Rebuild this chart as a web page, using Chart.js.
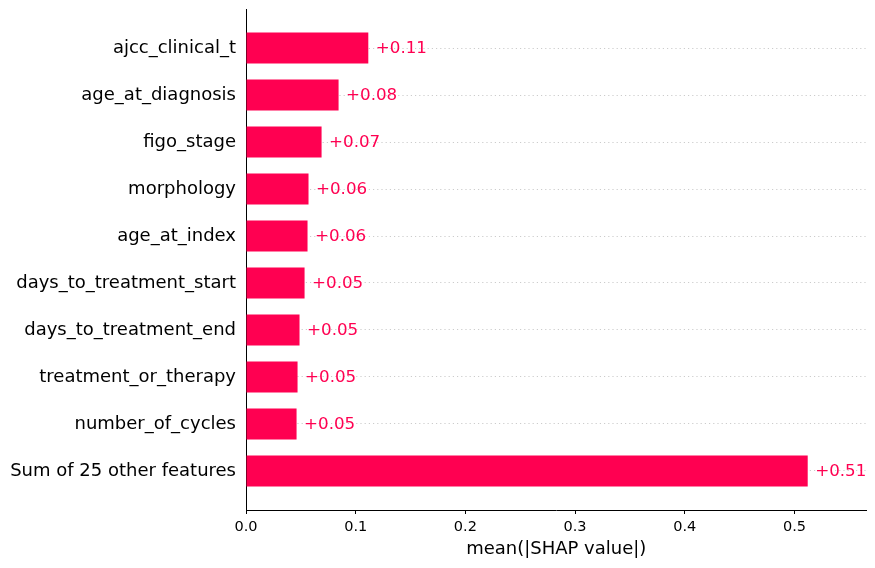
<!DOCTYPE html>
<html>
<head>
<meta charset="utf-8">
<script src="https://cdn.jsdelivr.net/npm/chart.js@4.4.1/dist/chart.umd.min.js"></script>
<style>
  html, body { margin: 0; padding: 0; background: #ffffff; }
  #wrap { width: 875px; height: 568px; }
</style>
</head>
<body>
<div id="wrap"><canvas id="c" width="875" height="568"></canvas></div>
<script>
const features = [
  "ajcc_clinical_t",
  "age_at_diagnosis",
  "figo_stage",
  "morphology",
  "age_at_index",
  "days_to_treatment_start",
  "days_to_treatment_end",
  "treatment_or_therapy",
  "number_of_cycles",
  "Sum of 25 other features"
];
const meanAbsShap = [0.1115, 0.0844, 0.0689, 0.0570, 0.0561, 0.0534, 0.0488, 0.0470, 0.0461, 0.5121];
const xTicks = [0.0, 0.1, 0.2, 0.3, 0.4, 0.5];
const xTitle = "mean(|SHAP value|)";

const RED = "#ff0051";
const FONT = "'DejaVu Sans', sans-serif";

const valueLabels = {
  id: "valueLabels",
  afterDatasetsDraw(chart) {
    const ctx = chart.ctx;
    const meta = chart.getDatasetMeta(0);
    ctx.save();
    ctx.font = "16.7px " + FONT;
    ctx.fillStyle = RED;
    ctx.textAlign = "left";
    ctx.textBaseline = "middle";
    meta.data.forEach((bar, i) => {
      const v = meanAbsShap[i];
      ctx.fillText("+" + v.toFixed(2), bar.x + 7.5, bar.y + 0.5);
    });
    ctx.restore();
  }
};

new Chart(document.getElementById("c"), {
  type: "bar",
  data: {
    datasets: [{
      data: meanAbsShap.map((v, i) => ({ x: v, y: i })),
      backgroundColor: RED,
      borderWidth: 0,
      categoryPercentage: 1.0,
      barPercentage: 0.66
    }]
  },
  options: {
    indexAxis: "y",
    responsive: false,
    animation: false,
    devicePixelRatio: 1,
    layout: { padding: { top: 9, right: 8.5, bottom: 0, left: 0 } },
    plugins: {
      legend: { display: false },
      tooltip: { enabled: false }
    },
    scales: {
      y: {
        type: "linear",
        reverse: true,
        offset: false,
        min: -0.83,
        max: features.length - 1 + 0.83,
        afterBuildTicks(scale) {
          scale.ticks = features.map((_, i) => ({ value: i }));
        },
        afterFit(scale) {
          scale.width = 246;
          scale.paddingTop = 0;
          scale.paddingBottom = 0;
        },
        ticks: {
          callback: (v) => features[v],
          font: { family: FONT, size: 18 },
          color: "#000000",
          padding: 10,
          autoSkip: false
        },
        grid: {
          display: true,
          offset: false,
          drawTicks: false,
          color: "#cccccc",
          lineWidth: 1
        },
        border: { display: true, color: "#000000", width: 1, dash: [1.2, 3] }
      },
      x: {
        type: "linear",
        min: 0,
        max: 0.5657,
        afterBuildTicks(scale) {
          scale.ticks = xTicks.map(v => ({ value: v }));
        },
        afterFit(scale) {
          scale.height = 58;
          scale.paddingLeft = 0;
          scale.paddingRight = 0;
        },
        ticks: {
          callback: (v) => Number(v).toFixed(1),
          font: { family: FONT, size: 14.5 },
          color: "#000000",
          padding: 5
        },
        grid: {
          display: true,
          drawOnChartArea: false,
          drawTicks: true,
          tickLength: 4,
          color: "#000000",
          lineWidth: 1
        },
        border: { display: true, color: "#000000", width: 1 },
        title: {
          display: true,
          text: xTitle,
          font: { family: FONT, size: 18 },
          color: "#000000",
          padding: { top: 0, bottom: 8 }
        }
      }
    }
  },
  plugins: [valueLabels]
});
</script>
</body>
</html>
